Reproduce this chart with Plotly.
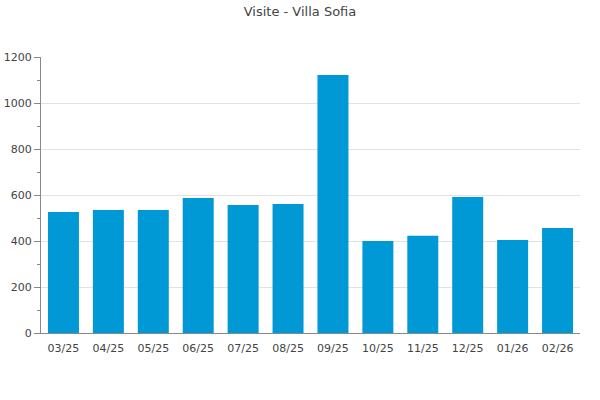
import plotly.graph_objects as go

MONTHS = ["03/25", "04/25", "05/25", "06/25", "07/25", "08/25",
          "09/25", "10/25", "11/25", "12/25", "01/26", "02/26"]
VISITS = [526, 535, 535, 587, 557, 561, 1122, 400, 423, 591, 404, 457]

BAR_COLOR = "#0099D6"
FONT = "DejaVu Sans"

fig = go.Figure()
fig.add_trace(go.Bar(
    x=MONTHS, y=VISITS,
    marker=dict(color=BAR_COLOR, line=dict(width=0)),
    hoverinfo="x+y",
))

fig.update_layout(
    width=600, height=400,
    margin=dict(l=41, r=20, t=57, b=67, autoexpand=False),
    title=dict(text="Visite - Villa Sofia", x=0.5, xanchor="center",
               y=0.9825, yanchor="top", pad=dict(t=0),
               font=dict(family=FONT, size=13, color="#444")),
    font=dict(family=FONT, size=11, color="#444"),
    plot_bgcolor="white", paper_bgcolor="white",
    bargap=0.31,
    showlegend=False,
)
fig.update_xaxes(
    automargin=False,
    showline=True, linecolor="#888", linewidth=1,
    ticks="outside", ticklen=5, tickcolor="rgba(0,0,0,0)",
    showgrid=False,
    tickfont=dict(size=11, color="#444"),
)
fig.update_yaxes(
    automargin=False,
    range=[0, 1200], dtick=200,
    showline=True, linecolor="#888", linewidth=1,
    ticks="outside", ticklen=6, tickcolor="#888",
    gridcolor="#e2e2e2", zeroline=False,
    minor=dict(dtick=100, ticks="outside", ticklen=3, tickcolor="#888", showgrid=False),
    tickfont=dict(size=11, color="#444"),
)

# page body has a default 8px margin; drop it so the chart sits at 0,0
fig.write_html("out.html", config={"displayModeBar": False},
               post_script="document.body.style.margin='0';")
